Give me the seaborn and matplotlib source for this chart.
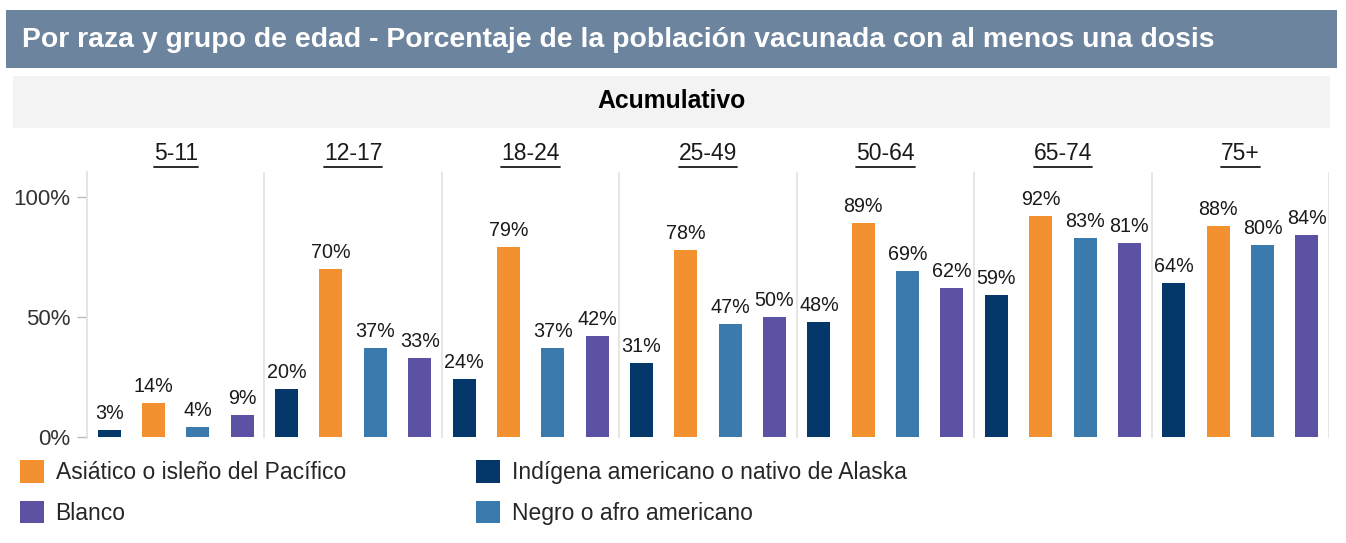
import pandas as pd
import seaborn as sns
import matplotlib.pyplot as plt
from matplotlib.patches import Rectangle, Patch
from matplotlib.lines import Line2D

grupos = ['5-11', '12-17', '18-24', '25-49', '50-64', '65-74', '75+']
razas = ['Indígena americano o nativo de Alaska', 'Asiático o isleño del Pacífico',
         'Negro o afro americano', 'Blanco']
indigena = [3, 20, 24, 31, 48, 59, 64]
asiatico = [14, 70, 79, 78, 89, 92, 88]
negro = [4, 37, 37, 47, 69, 83, 80]
blanco = [9, 33, 42, 50, 62, 81, 84]
colores = ['#04386B', '#F39131', '#3A7AAC', '#5C52A4']
yticks = [0, 50, 100]

rows = []
for raza, vals in zip(razas, [indigena, asiatico, negro, blanco]):
    for g, v in zip(grupos, vals):
        rows.append({'grupo': g, 'raza': raza, 'valor': v})
df = pd.DataFrame(rows)

sns.set_theme(style="white")
plt.rcParams['font.family'] = ['Liberation Sans', 'DejaVu Sans']

W, H = 1346, 543
fig = plt.figure(figsize=(W / 100, H / 100), dpi=100)

# header bands
fig.patches.append(Rectangle((6 / W, 1 - 68 / H), 1331 / W, 58 / H, transform=fig.transFigure,
                             facecolor='#6D849E', edgecolor='none', zorder=0))
fig.text(22 / W, 1 - 40 / H, 'Por raza y grupo de edad - Porcentaje de la población vacunada con al menos una dosis',
         color='white', fontsize=20.4, fontweight='bold', va='center', ha='left')
fig.patches.append(Rectangle((13 / W, 1 - 128 / H), 1317 / W, 52 / H, transform=fig.transFigure,
                             facecolor='#F3F3F3', edgecolor='none', zorder=0))
fig.text(672 / W, 1 - 101 / H, 'Acumulativo', color='black', fontsize=17.8, fontweight='bold',
         va='center', ha='center')

ax = fig.add_axes([87 / W, 1 - 438 / H, (1329 - 87) / W, (438 - 172) / H])
sns.barplot(data=df, x='grupo', y='valor', hue='raza', hue_order=razas, order=grupos,
            palette=colores, width=1.0, gap=0.48, ax=ax, legend=False, saturation=1,
            edgecolor='none')

for c in ax.containers:
    ax.bar_label(c, labels=[f'{int(v)}%' for v in c.datavalues], padding=5, fontsize=14.2,
                 color='#1A1A1A')

ax.set_xlim(-0.5, len(grupos) - 0.5)
ax.set_ylim(-0.4, 110.4)
ax.set_yticks(yticks)
ax.set_yticklabels([f'{t}%' for t in yticks], fontsize=16, color='#333333')
ax.tick_params(axis='y', length=7, width=1, color='#BBBBBB', pad=5, left=True)
ax.set_xticks([])
ax.set_xlabel('')
ax.set_ylabel('')
for s in ['top', 'bottom', 'right']:
    ax.spines[s].set_visible(False)
ax.spines['left'].set_color('#E2E2E2')
for i in range(len(grupos)):
    ax.axvline(i + 0.5, color='#E2E2E2', lw=1.2, zorder=0)

# age-group headers, underlined
fig.canvas.draw()
renderer = fig.canvas.get_renderer()
for i, g in enumerate(grupos):
    t = ax.text(i, (438 - 153) / (438 - 172), g, transform=ax.get_xaxis_transform(),
                ha='center', va='center', fontsize=16.5, color='#1A1A1A')
    bb = t.get_window_extent(renderer)
    y = bb.y0 - 2
    fig.lines.append(Line2D([bb.x0 / W, bb.x1 / W], [y / H, y / H], transform=fig.transFigure,
                            color='#1A1A1A', lw=1.3))

# legend
orden = [1, 3, 0, 2]
handles = [Patch(facecolor=colores[k], edgecolor='none') for k in orden]
labels = [razas[k] for k in orden]
fig.legend(handles, labels, loc='upper left', bbox_to_anchor=(20 / W, 1 - 460 / H), ncol=2,
           frameon=False, fontsize=16.5, handlelength=1.05, handleheight=1.15, handletextpad=0.5,
           columnspacing=5.7, labelspacing=0.72, borderpad=0, borderaxespad=0)

fig.savefig('out.png', dpi=100)
